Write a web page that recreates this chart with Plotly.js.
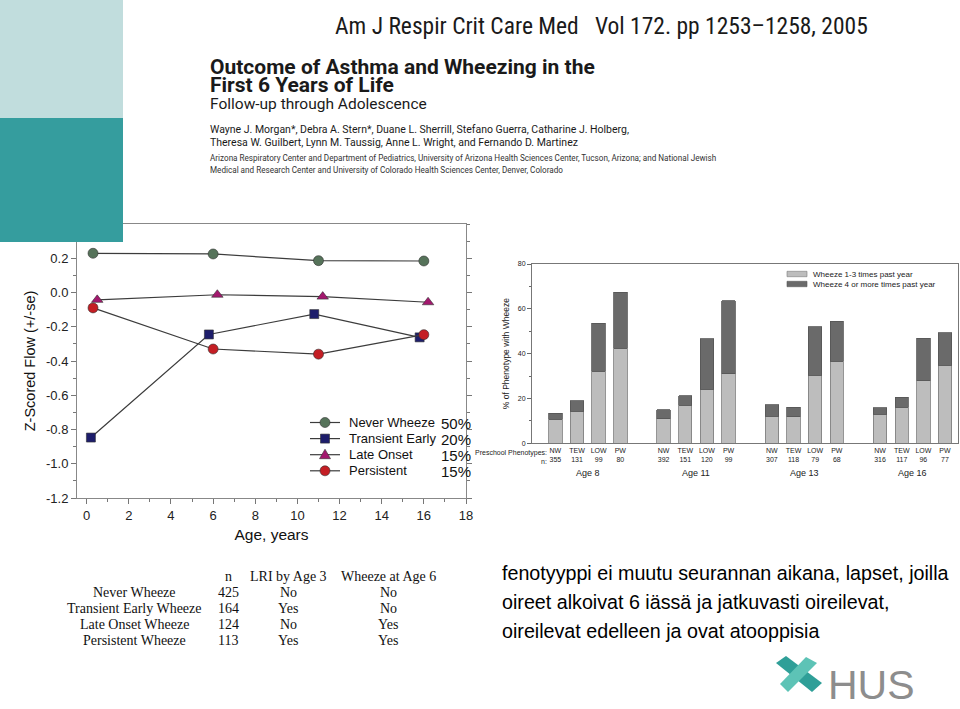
<!DOCTYPE html>
<html><head><meta charset="utf-8">
<script src="https://cdn.plot.ly/plotly-3.0.1.min.js"></script>
<style>html,body{margin:0;padding:0;background:#fff;}#chart{width:960px;height:709px;}</style>
</head><body><div id="chart"></div>
<script>
// ---- Line chart data (Z-scored flow by age) ----
const ageNever = [0.3, 6.0, 11.0, 16.0];
const zNever = [0.229, 0.225, 0.186, 0.184];
const ageTransient = [0.2, 5.8, 10.8, 15.8];
const zTransient = [-0.847, -0.245, -0.126, -0.262];
const ageLate = [0.5, 6.2, 11.2, 16.2];
const zLate = [-0.043, -0.013, -0.024, -0.057];
const agePersistent = [0.3, 6.0, 11.0, 16.0];
const zPersistent = [-0.09, -0.33, -0.36, -0.246];
const seriesNames = ['Never Wheeze', 'Transient Early', 'Late Onset', 'Persistent'];
const seriesShares = ['50%', '20%', '15%', '15%'];
const ageTicks = [0, 2, 4, 6, 8, 10, 12, 14, 16, 18];
const zTicks = [-1.2, -1.0, -0.8, -0.6, -0.4, -0.2, 0.0, 0.2];

// ---- Bar chart data (% of phenotype with wheeze) ----
const ageGroups = ['Age 8', 'Age 11', 'Age 13', 'Age 16'];
const phenotypes = ['NW', 'TEW', 'LOW', 'PW'];
const nCounts = [[355, 131, 99, 80], [392, 151, 120, 99], [307, 118, 79, 68], [316, 117, 96, 77]];
const wheeze1to3 = [[10.7, 14.3, 32.1, 42.4], [10.9, 17.0, 24.1, 31.1], [12.0, 11.9, 30.3, 36.6], [12.9, 16.1, 28.0, 34.9]];
const wheeze4plus = [[2.8, 4.7, 21.4, 25.1], [4.1, 4.3, 22.6, 32.5], [5.1, 4.2, 21.6, 17.8], [2.9, 4.4, 18.8, 14.5]];
const barSeries = ['Wheeze 1-3 times past year', 'Wheeze 4 or more times past year'];
const barTicks = [0, 20, 40, 60, 80];

// ---- Table data ----
const tableHeader = ['n', 'LRI by Age 3', 'Wheeze at Age 6'];
const tableRows = ['Never Wheeze', 'Transient Early Wheeze', 'Late Onset Wheeze', 'Persistent Wheeze'];
const tableN = [425, 164, 124, 113];
const tableLRI = ['No', 'Yes', 'No', 'Yes'];
const tableWheeze6 = ['No', 'No', 'Yes', 'Yes'];

// ---- Texts ----
const journalLine = 'Am J Respir Crit Care Med   Vol 172. pp 1253–1258, 2005';
const titleLines = ['Outcome of Asthma and Wheezing in the', 'First 6 Years of Life'];
const subtitle = 'Follow-up through Adolescence';
const authorLines = ['Wayne J. Morgan*, Debra A. Stern*, Duane L. Sherrill, Stefano Guerra, Catharine J. Holberg,',
  'Theresa W. Guilbert, Lynn M. Taussig, Anne L. Wright, and Fernando D. Martinez'];
const affilLines = ['Arizona Respiratory Center and Department of Pediatrics, University of Arizona Health Sciences Center, Tucson, Arizona; and National Jewish',
  'Medical and Research Center and University of Colorado Health Sciences Center, Denver, Colorado'];
const noteLines = ['fenotyyppi ei muutu seurannan aikana, lapset, joilla',
  'oireet alkoivat 6 iässä ja jatkuvasti oireilevat,',
  'oireilevat edelleen ja ovat atooppisia'];

// ---- helpers: pixel -> paper ----
const W = 960, H = 709;
const px = x => x / W;
const py = y => 1 - y / H;

const ARIAL = 'Liberation Sans, Arial, sans-serif';
const NARROW = 'Roboto Condensed, Liberation Sans Narrow, Roboto, sans-serif';
const ROBOTO = 'Roboto, Liberation Sans, sans-serif';
const SERIF = 'Liberation Serif, Times New Roman, serif';

const lineColor = '#3c3c3c';
const markerColors = ['#56735a', '#1d1d6b', '#a3186e', '#c41e24'];
const markerSymbols = ['circle', 'square', 'triangle-up', 'circle'];
const markerSizes = [10, 9, 10, 10];
const xs = [ageNever, ageTransient, ageLate, agePersistent];
const ys = [zNever, zTransient, zLate, zPersistent];

const traces = [];
for (let i = 0; i < 4; i++) {
  traces.push({
    type: 'scatter', mode: 'lines+markers', name: seriesNames[i], showlegend: false,
    x: xs[i], y: ys[i], xaxis: 'x', yaxis: 'y',
    line: {color: lineColor, width: 1.2},
    marker: {color: markerColors[i], symbol: markerSymbols[i], size: markerSizes[i], line: {color: '#333', width: 0.6}},
    cliponaxis: false
  });
}

// bar positions: slot index = group*5 + phenotype index (one empty slot between groups)
const slotX = [], tickText = [], light = [], dark = [];
ageGroups.forEach((g, gi) => {
  phenotypes.forEach((p, pi) => {
    slotX.push(gi * 5 + pi);
    tickText.push(p + '<br>' + nCounts[gi][pi]);
    light.push(wheeze1to3[gi][pi]);
    dark.push(wheeze4plus[gi][pi]);
  });
});
const barFill = ['#bdbdbd', '#6a6a6a'];
const barEdge = ['#7a7a7a', '#555555'];
traces.push({
  type: 'bar', name: barSeries[0], x: slotX, y: light, xaxis: 'x2', yaxis: 'y2', showlegend: false,
  width: 0.62, marker: {color: barFill[0], line: {color: barEdge[0], width: 0.8}}
});
traces.push({
  type: 'bar', name: barSeries[1], x: slotX, y: dark, xaxis: 'x2', yaxis: 'y2', showlegend: false,
  width: 0.62, marker: {color: barFill[1], line: {color: barEdge[1], width: 0.8}}
});

const annotations = [];
function txt(x, y, text, font, opts) {
  annotations.push(Object.assign({
    xref: 'paper', yref: 'paper', x: px(x), y: py(y), text: text, showarrow: false,
    xanchor: 'left', yanchor: 'middle', font: font
  }, opts || {}));
}
const shapes = [];

// header
txt(333, 26, journalLine, {family: NARROW, size: 23.5, color: '#1a1a1a'});
titleLines.forEach((t, i) => txt(208, 67 + i * 18, '<b>' + t + '</b>', {family: ROBOTO, size: 21, color: '#1a1a1a'}));
txt(208, 104, subtitle, {family: ROBOTO, size: 15.5, color: '#1a1a1a'});
authorLines.forEach((t, i) => txt(208, 130 + i * 12.5, t, {family: ROBOTO, size: 10.5, color: '#1a1a1a'}));
affilLines.forEach((t, i) => txt(208, 158 + i * 12, t, {family: ROBOTO, size: 8.15, color: '#333'}));

// line chart legend (keys + labels + shares)
seriesNames.forEach((name, i) => {
  const y = 422.5 + i * 16.1;
  shapes.push({type: 'line', xref: 'paper', yref: 'paper', x0: px(310), x1: px(340), y0: py(y), y1: py(y),
    line: {color: lineColor, width: 1.2}, layer: 'above'});
  const c = markerColors[i], edge = {color: '#333', width: 0.6};
  if (markerSymbols[i] === 'circle') {
    shapes.push({type: 'circle', xref: 'paper', yref: 'paper', x0: px(320), x1: px(330), y0: py(y + 5), y1: py(y - 5),
      fillcolor: c, line: edge, layer: 'above'});
  } else if (markerSymbols[i] === 'square') {
    shapes.push({type: 'rect', xref: 'paper', yref: 'paper', x0: px(320.5), x1: px(329.5), y0: py(y + 4.5), y1: py(y - 4.5),
      fillcolor: c, line: edge, layer: 'above'});
  } else {
    shapes.push({type: 'path', xref: 'paper', yref: 'paper', fillcolor: c, line: edge, layer: 'above',
      path: `M ${px(319.5)} ${py(y + 4)} L ${px(330.5)} ${py(y + 4)} L ${px(325)} ${py(y - 5.5)} Z`});
  }
  txt(347, y, name, {family: ARIAL, size: 13, color: '#111'});
  txt(473, y + 0.5, seriesShares[i], {family: ARIAL, size: 15, color: '#111'}, {xanchor: 'right'});
});

// bar chart legend
barSeries.forEach((name, i) => {
  const y = 274 + i * 10;
  shapes.push({type: 'rect', xref: 'paper', yref: 'paper', x0: px(787), x1: px(807), y0: py(y + 2.7), y1: py(y - 2.7),
    fillcolor: barFill[i], line: {color: barEdge[i], width: 0.6}, layer: 'above'});
  txt(811, y, name, {family: ARIAL, size: 8, color: '#222'});
});

// bar chart group labels
ageGroups.forEach((g, gi) => annotations.push({
  xref: 'x2', yref: 'paper', x: gi * 5 + 1.5, y: py(473), text: g, showarrow: false,
  xanchor: 'center', yanchor: 'middle', font: {family: ARIAL, size: 9, color: '#222'}
}));
txt(549, 452.5, 'Preschool Phenotypes:', {family: ARIAL, size: 7, color: '#222'}, {xanchor: 'right'});
txt(549, 461.5, 'n:', {family: ARIAL, size: 7, color: '#222'}, {xanchor: 'right'});

// table
const colX = [228, 288, 388];
const serifFont = {family: SERIF, size: 14, color: '#111'};
tableHeader.forEach((h, i) => txt(colX[i], 576, h, serifFont, {xanchor: 'center'}));
tableRows.forEach((r, i) => {
  const y = 592 + i * 16;
  txt(134.5, y, r, serifFont, {xanchor: 'center'});
  txt(colX[0], y, String(tableN[i]), serifFont, {xanchor: 'center'});
  txt(colX[1], y, tableLRI[i], serifFont, {xanchor: 'center'});
  txt(colX[2], y, tableWheeze6[i], serifFont, {xanchor: 'center'});
});

// Finnish note
noteLines.forEach((t, i) => txt(500, 573 + i * 29, t, {family: ARIAL, size: 19.7, color: '#000'}));

// HUS logo text
txt(826, 685, 'HUS', {family: ARIAL, size: 41, color: '#8d8d8d'});

shapes.push(
  {type: 'rect', xref: 'paper', yref: 'paper', x0: 0, x1: px(123), y0: py(118), y1: 1, fillcolor: '#c1dddd', line: {width: 0}, layer: 'above'},
  {type: 'rect', xref: 'paper', yref: 'paper', x0: 0, x1: px(123), y0: py(242), y1: py(118), fillcolor: '#359d9e', line: {width: 0}, layer: 'above'},
  {type: 'path', xref: 'paper', yref: 'paper', layer: 'above', line: {width: 0}, fillcolor: '#2f9f98',
    path: `M ${px(776)} ${py(663)} L ${px(786)} ${py(656)} L ${px(822)} ${py(683)} L ${px(812)} ${py(692)} Z`},
  {type: 'path', xref: 'paper', yref: 'paper', layer: 'above', line: {width: 0}, fillcolor: '#5dc3b6',
    path: `M ${px(788)} ${py(692)} L ${px(780)} ${py(684)} L ${px(806)} ${py(657)} L ${px(817)} ${py(663)} Z`}
);

const layout = {
  width: W, height: H, margin: {l: 0, r: 0, t: 0, b: 0},
  paper_bgcolor: '#fff', plot_bgcolor: 'rgba(0,0,0,0)',
  barmode: 'stack', showlegend: false,
  font: {family: ARIAL},
  xaxis: {
    domain: [px(77), px(466)], anchor: 'y', range: [-0.46, 18],
    tickvals: ageTicks, ticks: 'outside', ticklen: 5, tickcolor: '#777', tickwidth: 1,
    minor: {dtick: 1, ticks: 'outside', ticklen: 3, tickcolor: '#777'},
    showline: true, linecolor: '#888', linewidth: 1, mirror: true, showgrid: false, zeroline: false,
    tickfont: {family: ARIAL, size: 13, color: '#222'},
    title: {text: 'Age, years', font: {family: ARIAL, size: 15.5, color: '#111'}, standoff: 7}
  },
  yaxis: {
    domain: [py(498), py(224)], anchor: 'x', range: [-1.2, 0.4],
    tickvals: zTicks, ticktext: zTicks.map(v => v.toFixed(1)), ticks: 'outside', ticklen: 5, tickcolor: '#777',
    minor: {dtick: 0.1, ticks: 'outside', ticklen: 3, tickcolor: '#777'},
    showline: true, linecolor: '#888', linewidth: 1, mirror: 'ticks', showgrid: false, zeroline: false,
    tickfont: {family: ARIAL, size: 13, color: '#222'},
    title: {text: 'Z-Scored Flow (+/-se)', font: {family: ARIAL, size: 14.5, color: '#111'}, standoff: 6}
  },
  xaxis2: {
    domain: [px(532), px(958)], anchor: 'y2', range: [-1.08, 18.6],
    tickvals: slotX, ticktext: tickText, ticks: '', showline: true, linecolor: '#777', linewidth: 1, mirror: true,
    showgrid: false, zeroline: false, tickfont: {family: ARIAL, size: 7, color: '#222'}
  },
  yaxis2: {
    domain: [py(443.3), py(264)], anchor: 'x2', range: [0, 80],
    tickvals: barTicks, ticks: 'outside', ticklen: 4, tickcolor: '#666',
    minor: {dtick: 10, ticks: 'outside', ticklen: 2, tickcolor: '#666'},
    showline: true, linecolor: '#777', linewidth: 1, mirror: true, showgrid: false, zeroline: false,
    tickfont: {family: ARIAL, size: 7, color: '#222'},
    title: {text: '% of Phenotype with Wheeze', font: {family: ARIAL, size: 8.5, color: '#222'}, standoff: 6}
  },
  annotations: annotations,
  shapes: shapes
};

Plotly.newPlot('chart', traces, layout, {displayModeBar: false, staticPlot: true});
</script></body></html>
